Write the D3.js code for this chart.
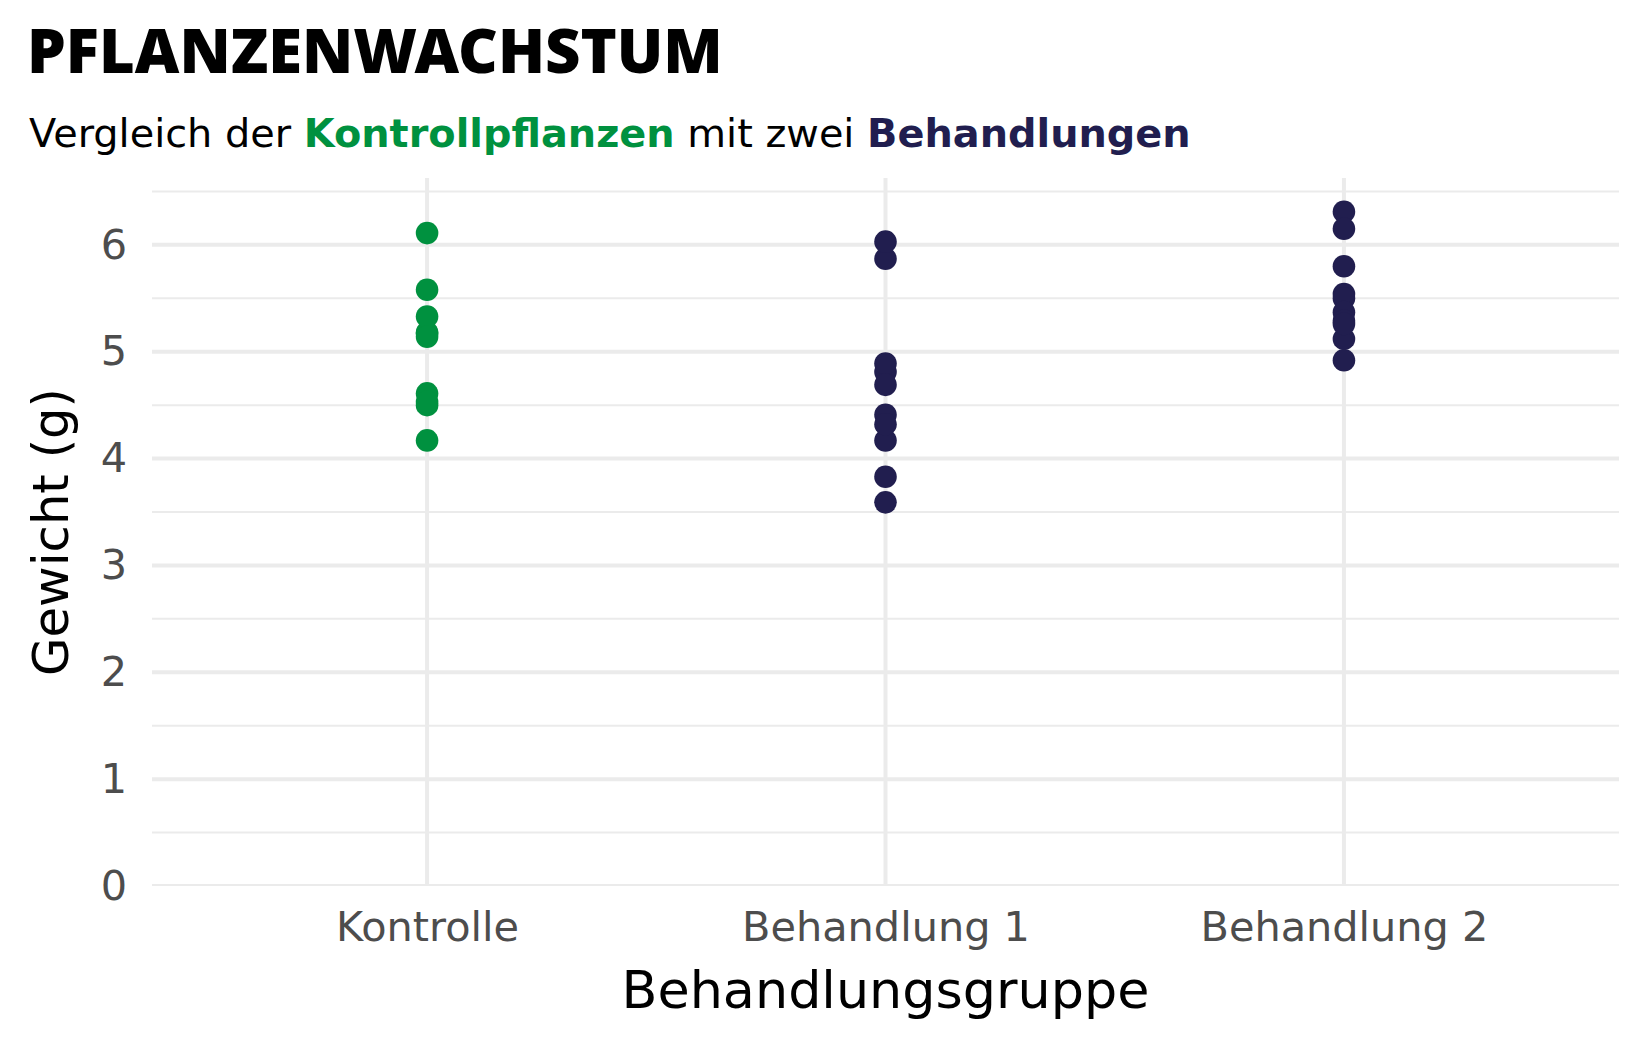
<!DOCTYPE html>
<html><head><meta charset="utf-8">
<script src="https://cdn.jsdelivr.net/npm/d3@7"></script>
<style>body{margin:0;background:#fff}svg{display:block}</style>
</head><body>
<svg id="c" width="1650" height="1050" font-family="DejaVu Sans"></svg>
<script>
const categories = ["Kontrolle", "Behandlung 1", "Behandlung 2"];
const kontrolle = [4.17, 5.58, 5.18, 6.11, 4.50, 4.61, 5.17, 4.53, 5.33, 5.14];
const behandlung1 = [4.81, 4.17, 4.41, 3.59, 5.87, 3.83, 6.03, 4.89, 4.32, 4.69];
const behandlung2 = [6.31, 5.12, 5.54, 5.50, 5.37, 5.29, 4.92, 6.15, 5.80, 5.26];
const yTicks = [0, 1, 2, 3, 4, 5, 6];
const yMinor = [0.5, 1.5, 2.5, 3.5, 4.5, 5.5, 6.5];
const groupColors = ["#00913F", "#211E4F", "#211E4F"];

const series = [kontrolle, behandlung1, behandlung2];
const points = [];
series.forEach((vals, i) => vals.forEach(v => points.push({cat: categories[i], v, color: groupColors[i]})));

const svg = d3.select("#c");
const L = 152, R = 1619, T = 178, B = 886;
const yMax = d3.max(points, d => d.v) * 1.05;
const y = d3.scaleLinear().domain([0, yMax]).range([B, T]);
const x = d3.scalePoint().domain(categories).range([L, R]).padding(0.6);

function fit(sel, targetW) {
  const w = sel.node().getComputedTextLength();
  const fs = parseFloat(sel.style("font-size"));
  const nfs = fs * targetW / w;
  sel.style("font-size", nfs + "px");
  return nfs;
}

const grid = "#EBEBEB";
const panel = svg.append("g");
panel.append("clipPath").attr("id", "pc").append("rect").attr("x", L).attr("y", T).attr("width", R - L).attr("height", B - T);
const gp = panel.append("g").attr("clip-path", "url(#pc)");
gp.selectAll("line.minor").data(yMinor).join("line").attr("class", "minor")
  .attr("x1", L).attr("x2", R).attr("y1", d => y(d)).attr("y2", d => y(d))
  .attr("stroke", grid).attr("stroke-width", 2);
gp.selectAll("line.major").data(yTicks).join("line").attr("class", "major")
  .attr("x1", L).attr("x2", R).attr("y1", d => y(d)).attr("y2", d => y(d))
  .attr("stroke", grid).attr("stroke-width", 4);
gp.selectAll("line.vx").data(categories).join("line").attr("class", "vx")
  .attr("x1", d => x(d)).attr("x2", d => x(d)).attr("y1", T).attr("y2", B)
  .attr("stroke", grid).attr("stroke-width", 4);

gp.selectAll("circle").data(points).join("circle")
  .attr("cx", d => x(d.cat)).attr("cy", d => y(d.v)).attr("r", 11.3)
  .attr("fill", d => d.color);

// Axes (text only)
const xAxis = svg.append("g").attr("transform", `translate(0,${B})`)
  .call(d3.axisBottom(x).tickSize(0).tickPadding(26));
xAxis.select(".domain").remove();
xAxis.selectAll("text").style("font-size", "35px").style("font-family", "DejaVu Sans").attr("fill", "#4D4D4D");
const tickFs = fit(xAxis.selectAll("text").filter(d => d === "Behandlung 2"), 288);
xAxis.selectAll("text").style("font-size", tickFs + "px");

const yAxis = svg.append("g").attr("transform", `translate(${L},0)`)
  .call(d3.axisLeft(y).tickValues(yTicks).tickFormat(d3.format("d")).tickSize(0).tickPadding(25));
yAxis.select(".domain").remove();
yAxis.selectAll("text").style("font-size", tickFs + "px").style("font-family", "DejaVu Sans").attr("fill", "#4D4D4D");

const xt = svg.append("text").attr("x", x("Behandlung 1")).attr("y", 1008).attr("text-anchor", "middle")
  .style("font-size", "44px").style("font-family", "DejaVu Sans").attr("fill", "#000").text("Behandlungsgruppe");
fit(xt, 528);
const yt = svg.append("text").attr("transform", `translate(68,${(T + B) / 2}) rotate(-90)`).attr("text-anchor", "middle")
  .style("font-size", "44px").style("font-family", "DejaVu Sans").attr("fill", "#000").text("Gewicht (g)");
fit(yt, 288);

const title = svg.append("text").attr("x", 27).attr("y", 73)
  .style("font-size", "62px").style("font-weight", "900").style("font-family", "'Noto Sans'")
  .attr("fill", "#000").text("PFLANZENWACHSTUM");
fit(title, 696);

const sub = svg.append("text").attr("x", 29).attr("y", 147)
  .style("font-size", "37px").style("font-family", "DejaVu Sans").attr("fill", "#000");
sub.append("tspan").text("Vergleich der ");
sub.append("tspan").attr("font-weight", 700).attr("fill", groupColors[0]).text("Kontrollpflanzen");
sub.append("tspan").text(" mit zwei ");
sub.append("tspan").attr("font-weight", 700).attr("fill", groupColors[1]).text("Behandlungen");
fit(sub, 1162);
</script>
</body></html>
